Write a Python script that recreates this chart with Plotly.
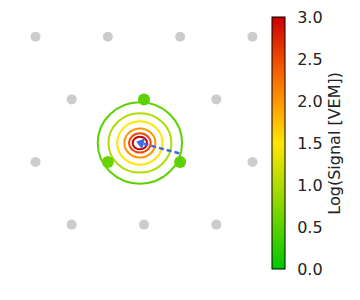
import math
import plotly.graph_objects as go
from plotly.colors import sample_colorscale

# ---- data ----
# inactive (gray) stations, metres
gray_x = [-2250, -750, 750, 2250, -1500, 1500, -2250, 2250, -1500, 0, 1500]
gray_y = [2598, 2598, 2598, 2598, 1299, 1299, 0, 0, -1299, -1299, -1299]
# triggered stations, metres, and their log signal
hit_x = [0, -750, 750]
hit_y = [1299, 0, 0]
hit_logS = [0.52, 0.58, 0.52]
# shower core and axis-projection line end
core_x, core_y = -60, 392
axis_end_x, axis_end_y = 732, 180
# signal contour levels and their radii (x / y semi-axes, metres)
levels = [0.5, 1.0, 1.5, 2.0, 2.5, 3.0]
rad_x = [875, 653, 470, 322, 224, 150]
rad_y = [845, 615, 450, 300, 200, 130]
cb_ticks = [0.0, 0.5, 1.0, 1.5, 2.0, 2.5, 3.0]
ring_cx, ring_cy = -85, 395

CMIN, CMAX = 0.0, 3.0
cscale = [[0.0, '#00c800'], [0.1667, '#5ad200'], [0.3333, '#b0dc00'],
          [0.5, '#ffe600'], [0.6667, '#ff9600'], [0.8333, '#f04a00'],
          [1.0, '#c80000']]

W, H = 360, 300
PLOT_W = 260
PXM = 72.3 / 1500.0  # px per metre
x0_px, y0_px = 144, 162  # pixel position of origin

fig = go.Figure()

fig.add_trace(go.Scatter(x=gray_x, y=gray_y, mode='markers',
                         marker=dict(size=10, color='#cccccc'),
                         hoverinfo='skip'))

# contour rings
cols = sample_colorscale(cscale, [(l - CMIN) / (CMAX - CMIN) for l in levels])
for lv, rx, ry, c in zip(levels, rad_x, rad_y, cols):
    fig.add_shape(type='circle', xref='x', yref='y', layer='below',
                  x0=ring_cx - rx, x1=ring_cx + rx, y0=ring_cy - ry, y1=ring_cy + ry,
                  line=dict(color=c, width=2))

# axis line with arrow at core
fig.add_trace(go.Scatter(x=[axis_end_x, core_x], y=[axis_end_y, core_y],
                         mode='lines',
                         line=dict(color='#4169e1', width=2.5, dash='5px,3px'),
                         hoverinfo='skip'))
ang = math.degrees(math.atan2(core_x - axis_end_x, core_y - axis_end_y))
fig.add_trace(go.Scatter(x=[core_x], y=[core_y], mode='markers',
                         marker=dict(symbol='triangle-up', size=10, angle=ang,
                                     color='#4169e1', line=dict(width=0)),
                         hoverinfo='skip'))

# triggered stations with colorbar
cb_bottom_px, cb_top_px = 269.3, 17
cb_left_px, cb_thick = 272, 13
fig.add_trace(go.Scatter(
    x=hit_x, y=hit_y, mode='markers',
    marker=dict(size=12, color=hit_logS, colorscale=cscale, cmin=CMIN, cmax=CMAX,
                showscale=True,
                colorbar=dict(
                    x=cb_left_px / W, xanchor='left', thickness=cb_thick,
                    y=(H - cb_bottom_px) / H, yanchor='bottom',
                    len=(cb_bottom_px - cb_top_px) / H, lenmode='fraction',
                    outlinecolor='black', outlinewidth=1,
                    tickvals=cb_ticks, ticktext=[f'{t:.1f}' for t in cb_ticks],
                    ticks='outside', ticklen=9, tickcolor='rgba(0,0,0,0)',
                    tickfont=dict(family='DejaVu Sans', size=16, color='#222222'),
                    title=dict(text='Log(Signal [VEM])', side='right',
                               font=dict(family='DejaVu Sans', size=16, color='#222222')),
                    ypad=0, xpad=0)),
    hoverinfo='skip'))

# inner ticks of colorbar on both sides (matplotlib style)
for t in cb_ticks[1:-1]:
    ypx = cb_bottom_px - (t - CMIN) / (CMAX - CMIN) * (cb_bottom_px - cb_top_px)
    for xa, xb in [(cb_left_px, cb_left_px + 3), (cb_left_px + cb_thick - 3, cb_left_px + cb_thick)]:
        fig.add_shape(type='line', xref='paper', yref='paper',
                      x0=xa / W, x1=xb / W, y0=1 - ypx / H, y1=1 - ypx / H,
                      line=dict(color='black', width=1))

fig.update_layout(
    width=W, height=H, margin=dict(l=0, r=0, t=0, b=0),
    paper_bgcolor='white', plot_bgcolor='white', showlegend=False,
    xaxis=dict(domain=[0, PLOT_W / W], visible=False,
               range=[-x0_px / PXM, (PLOT_W - x0_px) / PXM]),
    yaxis=dict(visible=False,
               range=[-(H - y0_px) / PXM, y0_px / PXM]),
)

fig.write_html('out.html')
